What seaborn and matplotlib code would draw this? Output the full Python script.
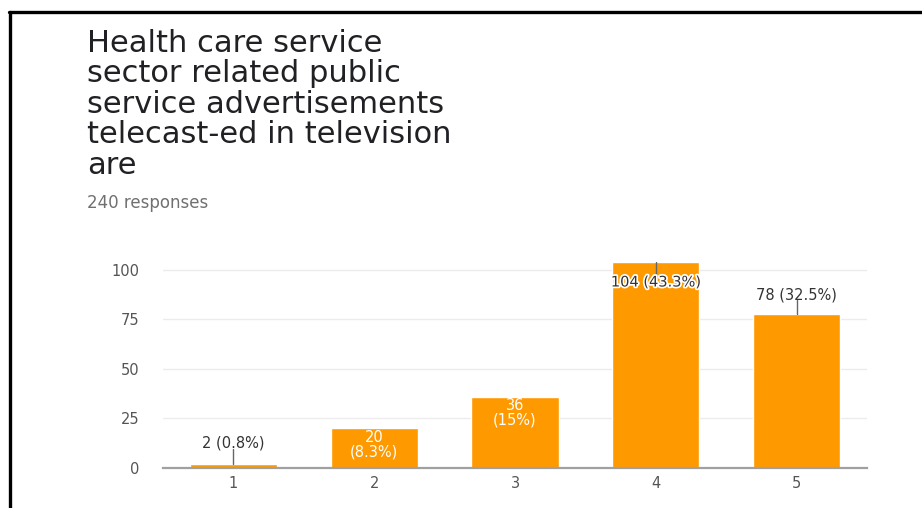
import matplotlib
matplotlib.use("Agg")
import matplotlib.pyplot as plt
import matplotlib.patheffects as pe
from matplotlib.lines import Line2D
import seaborn as sns

# Survey answers on a 1-5 scale
categories = ["1", "2", "3", "4", "5"]
counts = [2, 20, 36, 104, 78]
total_responses = 240
y_ticks = [0, 25, 50, 75, 100]

title_lines = [
    "Health care service",
    "sector related public",
    "service advertisements",
    "telecast-ed in television",
    "are",
]

BAR = "#ff9900"
FONT = ["DejaVu Sans"]

sns.set_theme(style="white")
plt.rcParams["font.family"] = FONT

W, H = 922, 508
fig = plt.figure(figsize=(W / 100, H / 100), dpi=100)
fig.patch.set_facecolor("white")

# plot area in pixel geometry
left, right, bottom, top = 163, 867, 468, 262
ax = fig.add_axes([left / W, 1 - bottom / H, (right - left) / W, (bottom - top) / H])

sns.barplot(x=categories, y=counts, color=BAR, saturation=1, width=0.62,
            ax=ax, zorder=3)

ax.set_xlim(-0.5, len(categories) - 0.5)
ax.set_ylim(0, 104)
ax.set_yticks(y_ticks)
ax.set_yticklabels([str(t) for t in y_ticks])
ax.set_xlabel("")
ax.set_ylabel("")
for t in y_ticks[1:]:
    ax.axhline(t, color="#ececec", lw=1, zorder=1)
for s in ["top", "right", "left"]:
    ax.spines[s].set_visible(False)
ax.spines["bottom"].set_color("#a0a0a0")
ax.spines["bottom"].set_linewidth(1.6)
ax.spines["bottom"].set_zorder(4)
ax.tick_params(axis="y", length=0, pad=17, labelsize=10.5, labelcolor="#555555")
ax.tick_params(axis="x", length=0, pad=6, labelsize=10.5, labelcolor="#555555")

px_per_unit = (bottom - top) / 104.0


def fmt_pct(v):
    p = round(100.0 * v / total_responses, 1)
    return f"{p:g}%"


label_kw = dict(ha="center", va="center", fontsize=10.5, zorder=6)
halo = [pe.withStroke(linewidth=2.5, foreground="white")]
lead = dict(color="#666666", lw=1, zorder=5)

for i, v in enumerate(counts):
    txt = f"{v} ({fmt_pct(v)})"
    if i == 0:
        # small bar: label above with a leader line
        ax.plot([i, i], [v, v + 15.5 / px_per_unit], **lead)
        ax.text(i, v + 21 / px_per_unit, txt, color="#333333", **label_kw)
    elif i in (1, 2):
        # label inside the bar, on two lines
        ax.text(i, v - 16.5 / px_per_unit, f"{v}\n({fmt_pct(v)})",
                color="white", linespacing=0.95, **label_kw)
    elif i == 3:
        # tallest bar: label tucked under the top
        ax.plot([i, i], [v, v - 14 / px_per_unit], **lead)
        ax.text(i, v - 20 / px_per_unit, txt, color="#333333",
                path_effects=halo, **label_kw)
    else:
        ax.plot([i, i], [v, v + 14 / px_per_unit], **lead)
        ax.text(i, v + 19 / px_per_unit, txt, color="#333333", **label_kw)

# heading and response count
base_y = 52
for k, line in enumerate(title_lines):
    fig.text(87 / W, 1 - (base_y + 30.5 * k) / H, line, fontsize=22,
             color="#202124", ha="left", va="baseline")
fig.text(87 / W, 1 - 208 / H, f"{total_responses} responses", fontsize=12,
         color="#707070", ha="left", va="baseline")

# black frame along the top and left edges
fig.add_artist(Line2D([9 / W, 1], [1 - 12 / H, 1 - 12 / H], color="black",
                      lw=2.4, transform=fig.transFigure))
fig.add_artist(Line2D([10 / W, 10 / W], [0, 1 - 12 / H], color="black",
                      lw=2.4, transform=fig.transFigure))

fig.savefig("out.png", dpi=100, facecolor="white")
